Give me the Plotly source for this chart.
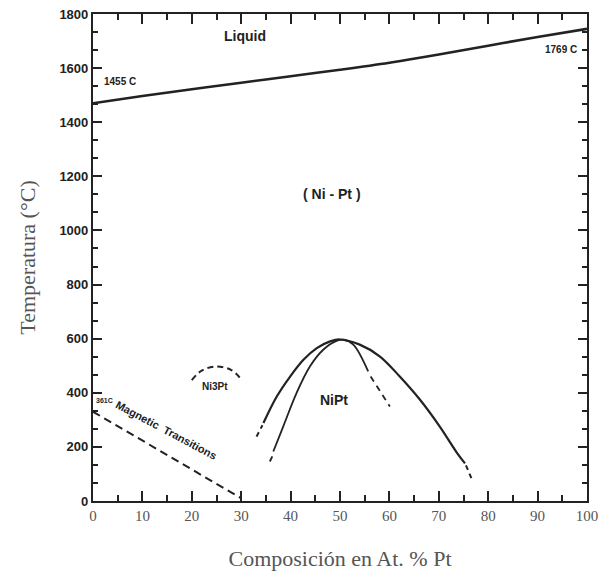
import plotly.graph_objects as go

# Liquidus line
liq_x = [0, 10, 20, 30, 40, 50, 60, 70, 80, 90, 100]
liq_y = [1470, 1497, 1522, 1546, 1570, 1594, 1620, 1650, 1683, 1715, 1745]

# Magnetic transitions (dashed)
mag_x = [0, 30]
mag_y = [330, 10]

# Ni3Pt ordering dome (dashed)
ni3_x = [20, 22, 25, 28, 30]
ni3_y = [447, 482, 497, 484, 450]

# NiPt outer curve (solid) and its dashed extensions
out_x = [34.5, 37.2, 39.9, 42.6, 45.3, 48.0, 50.0, 54.0, 58.1, 62.1, 66.2, 70.2, 73.6, 75.3]
out_y = [288, 386, 460, 522, 565, 590, 597, 578, 534, 460, 374, 275, 180, 139]
out_dl_x = [33.1, 34.3]
out_dl_y = [238, 280]
out_dr_x = [75.5, 76.6]
out_dr_y = [132, 84]

# NiPt inner curve (solid) and its dashed extensions
in_x = [36.5, 38.5, 41.2, 43.9, 46.6, 49.3, 50.8, 52.7, 55.7]
in_y = [183, 275, 399, 497, 559, 592, 596, 578, 479]
in_dl_x = [35.8, 36.3]
in_dl_y = [146, 165]
in_dr_x = [56.2, 60.1]
in_dr_y = [460, 349]

x_tickvals = [0, 10, 20, 30, 40, 50, 60, 70, 80, 90, 100]
y_tickvals = [0, 200, 400, 600, 800, 1000, 1200, 1400, 1600, 1800]

BLACK = "#222222"
fig = go.Figure()

def add(x, y, width=2.2, dash=None, shape="spline"):
    fig.add_trace(go.Scatter(x=x, y=y, mode="lines",
                             line=dict(color=BLACK, width=width, dash=dash, shape=shape, smoothing=1.0),
                             showlegend=False, hoverinfo="skip"))

add(liq_x, liq_y, width=2.6)
add(mag_x, mag_y, width=2.0, dash="8px,5px", shape="linear")
add(ni3_x, ni3_y, width=2.0, dash="6px,4px")
add(out_x, out_y, width=2.2)
add(out_dl_x, out_dl_y, width=2.0, dash="5px,4px", shape="linear")
add(out_dr_x, out_dr_y, width=2.0, dash="5px,4px", shape="linear")
add(in_x, in_y, width=1.8)
add(in_dl_x, in_dl_y, width=1.8, shape="linear")
add(in_dr_x, in_dr_y, width=1.8, dash="6px,5px", shape="linear")

narrow = "Liberation Sans, Arial, sans-serif"
serif = "Liberation Serif, Times New Roman, serif"

def label(x, y, text, size, angle=0, xanchor="center"):
    fig.add_annotation(x=x, y=y, text=text, showarrow=False, textangle=angle,
                       xanchor=xanchor, yanchor="middle",
                       font=dict(family=narrow, size=size, color=BLACK, weight="bold"))

label(30.7, 1718, "Liquid", 14)
label(5.5, 1552, "1455 C", 10)
label(98.3, 1667, "1769 C", 10, xanchor="right")
label(48.4, 1133, "( Ni - Pt )", 14)
label(48.8, 374, "NiPt", 14)
label(24.7, 422, "Ni3Pt", 10)
label(2.3, 372, "361C", 7)
label(14.8, 262, "Magnetic  Transitions", 11, angle=28)

fig.update_xaxes(range=[0, 100], tickvals=x_tickvals, ticks="inside", ticklen=10, tickwidth=2,
                 tickcolor=BLACK, showline=True, linewidth=2.2, linecolor=BLACK, mirror="allticks",
                 showgrid=False, zeroline=False, automargin=False, ticklabeloverflow="allow",
                 minor=dict(dtick=5, tick0=0, ticks="inside", ticklen=6, tickwidth=2, tickcolor=BLACK),
                 tickfont=dict(family=serif, size=15, color="#555555"),
                 title=dict(text="Composición en At. % Pt", font=dict(family=serif, size=22, color="#555555"),
                            standoff=28))
fig.update_yaxes(range=[0, 1800], tickvals=y_tickvals, ticks="inside", ticklen=9, tickwidth=2,
                 tickcolor=BLACK, showline=True, linewidth=2.2, linecolor=BLACK, mirror="allticks",
                 showgrid=False, zeroline=False, automargin=False, ticklabeloverflow="allow",
                 minor=dict(dtick=200/3, tick0=0, ticks="inside", ticklen=5, tickwidth=2, tickcolor=BLACK),
                 tickfont=dict(family=narrow, size=13, color=BLACK, weight="bold"),
                 title=dict(text="Temperatura (°C)", font=dict(family=serif, size=22, color="#555555"),
                            standoff=18))

fig.update_layout(width=598, height=579, margin=dict(l=93, r=11, t=14, b=78),
                  plot_bgcolor="white", paper_bgcolor="white")

fig.write_html("out.html", config={"displayModeBar": False},
               post_script="document.body.style.margin='0';")
